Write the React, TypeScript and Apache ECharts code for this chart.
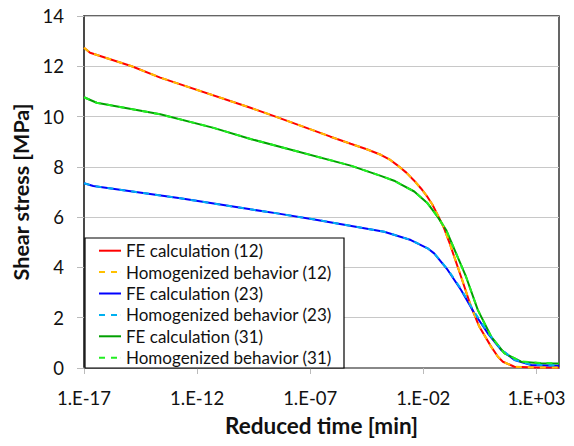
import React, { useEffect, useRef } from "react";
import * as echarts from "echarts";

// x values are log10 of reduced time [min]; y values are shear stress [MPa]
const X_MIN_EXP = -17;
const X_MAX_EXP = 4;
const X_TICK_STEP = 5;
const Y_TICKS = [0, 2, 4, 6, 8, 10, 12, 14];

const fe12Exp = [-17, -16.73, -14.89, -13.63, -9.64, -8.53, -6.1, -5.21, -4.5, -3.88, -3.5, -3.14, -2.75, -2.4, -2.1, -1.85, -1.6, -1.37, -1.1, -0.85, -0.33, 0.11, 0.48, 1.0, 1.3, 1.52, 2.03, 3.0, 4.0];
const fe12Val = [12.74, 12.54, 12.0, 11.55, 10.35, 10.0, 9.2, 8.92, 8.7, 8.48, 8.3, 8.06, 7.77, 7.45, 7.14, 6.85, 6.5, 6.1, 5.6, 5.0, 3.63, 2.44, 1.64, 0.85, 0.45, 0.25, 0.05, 0.02, 0.02];
const hom12Exp = [-17, -16.73, -14.89, -13.63, -9.64, -8.53, -6.1, -5.21, -4.5, -3.88, -3.5, -3.14, -2.75, -2.4, -2.1, -1.85, -1.6, -1.37, -1.1, -0.85, -0.33, 0.11, 0.48, 1.0, 1.3, 1.52, 2.03, 3.0, 4.0];
const hom12Val = [12.74, 12.54, 12.0, 11.55, 10.35, 10.0, 9.2, 8.92, 8.7, 8.48, 8.3, 8.06, 7.77, 7.45, 7.14, 6.85, 6.5, 6.1, 5.6, 5.0, 3.65, 2.46, 1.64, 0.84, 0.45, 0.25, 0.05, 0.02, 0.02];

const fe23Exp = [-17, -16.59, -12.74, -9.64, -8.46, -6.69, -3.73, -2.55, -1.81, -1.52, -0.92, -0.33, 0.26, 0.85, 1.44, 2.03, 2.77, 4.0];
const fe23Val = [7.35, 7.24, 6.75, 6.31, 6.15, 5.89, 5.42, 5.09, 4.76, 4.56, 3.9, 3.1, 2.18, 1.38, 0.72, 0.32, 0.12, 0.09];
const hom23Exp = [-17, -16.59, -12.74, -9.64, -8.46, -6.69, -3.73, -2.55, -1.81, -1.52, -0.92, -0.33, 0.26, 0.85, 1.44, 2.03, 2.77, 4.0];
const hom23Val = [7.35, 7.24, 6.75, 6.31, 6.15, 5.89, 5.42, 5.09, 4.76, 4.56, 3.92, 3.14, 2.22, 1.42, 0.74, 0.33, 0.13, 0.1];

const fe31Exp = [-17, -16.44, -13.63, -11.27, -9.64, -5.21, -3.88, -3.29, -2.99, -2.4, -1.81, -1.37, -0.99, -0.11, 0.41, 1.0, 1.59, 2.33, 3.21, 4.0];
const fe31Val = [10.77, 10.55, 10.09, 9.55, 9.11, 8.05, 7.64, 7.45, 7.3, 7.02, 6.55, 6.02, 5.49, 3.63, 2.31, 1.25, 0.58, 0.25, 0.19, 0.18];
const hom31Exp = [-17, -16.44, -13.63, -11.27, -9.64, -5.21, -3.88, -3.29, -2.99, -2.4, -1.81, -1.37, -0.99, -0.11, 0.41, 1.0, 1.59, 2.33, 3.21, 4.0];
const hom31Val = [10.77, 10.55, 10.09, 9.55, 9.11, 8.05, 7.64, 7.45, 7.3, 7.02, 6.55, 6.02, 5.49, 3.63, 2.31, 1.25, 0.58, 0.26, 0.2, 0.19];

const seriesNames = [
  "FE calculation (12)",
  "Homogenized behavior (12)",
  "FE calculation (23)",
  "Homogenized behavior (23)",
  "FE calculation (31)",
  "Homogenized behavior (31)",
];
const seriesColors = ["#ff0000", "#ffc000", "#0000ff", "#00b0f0", "#00a000", "#22ee22"];

const FONT = "Lato, 'Liberation Sans', sans-serif";
const SOLID_ICON = "path://M0,0H22V2H0Z";
const DASH_ICON = "path://M0,0H6V2H0ZM12,0H18V2H12ZM21.9,0H22V2H21.9Z";

function pairs(xs: number[], ys: number[]) {
  return xs.map((e, i) => [e - X_MIN_EXP, ys[i]]);
}

function expLabel(v: number) {
  const e = Math.round(v + X_MIN_EXP);
  const s = String(Math.abs(e)).padStart(2, "0");
  return "1.E" + (e < 0 ? "-" : "+") + s;
}

export default function App() {
  const ref = useRef<HTMLDivElement>(null);
  useEffect(() => {
    if (!ref.current) return;
    const chart = echarts.init(ref.current, null, { renderer: "svg" });
    const mk = (idx: number, data: number[][]) => {
      const dashed = idx % 2 === 1;
      const color = seriesColors[idx];
      return {
        name: seriesNames[idx],
        type: "line",
        data,
        showSymbol: false,
        symbol: "none",
        smooth: false,
        lineStyle: { color, width: 2, type: dashed ? [6, 6] : "solid" },
        itemStyle: { color },
        z: dashed ? 3 : 2,
      };
    };
    chart.setOption({
      animation: false,
      backgroundColor: "#ffffff",
      grid: {
        left: 84,
        right: 15,
        top: 16,
        bottom: 78,
        show: true,
        borderColor: "#333333",
        borderWidth: 1.5,
        containLabel: false,
        outerBoundsMode: "none",
      },
      xAxis: {
        type: "value",
        min: 0,
        max: X_MAX_EXP - X_MIN_EXP,
        interval: X_TICK_STEP,
        name: "Reduced time [min]",
        nameLocation: "middle",
        nameGap: 46,
        nameTextStyle: { fontFamily: FONT, fontSize: 22.5, fontWeight: "bold", color: "#111" },
        axisLine: { show: true, lineStyle: { color: "#888888", width: 2 } },
        axisTick: { show: true, inside: false, length: 6, lineStyle: { color: "#bbbbbb", width: 1 } },
        axisLabel: {
          fontFamily: FONT,
          fontSize: 18.5,
          color: "#111",
          margin: 20,
          showMaxLabel: false,
          formatter: (v: number) => expLabel(v),
        },
        splitLine: { show: false },
      },
      yAxis: {
        type: "value",
        min: Y_TICKS[0],
        max: Y_TICKS[Y_TICKS.length - 1],
        interval: 2,
        name: "Shear stress [MPa]",
        nameLocation: "middle",
        nameGap: 47,
        nameTextStyle: { fontFamily: FONT, fontSize: 21.5, fontWeight: "bold", color: "#111" },
        axisLine: { show: true, lineStyle: { color: "#404040", width: 1.5 } },
        axisTick: { show: true, inside: false, length: 7, lineStyle: { color: "#bbbbbb", width: 1 } },
        axisLabel: { fontFamily: FONT, fontSize: 18.5, color: "#111", margin: 20 },
        splitLine: { show: true, lineStyle: { color: "#c8c8c8", width: 1 } },
      },
      legend: {
        show: true,
        orient: "vertical",
        left: 99,
        top: 240,
        padding: 0,
        itemGap: 0,
        itemWidth: 22,
        itemHeight: 2,
        symbolKeepAspect: false,
        textStyle: { fontFamily: FONT, fontSize: 17, color: "#111", lineHeight: 21.4 },
        data: seriesNames.map((name, i) => ({ name, icon: i % 2 === 1 ? DASH_ICON : SOLID_ICON })),
        z: 6,
      },
      graphic: [
        {
          type: "rect",
          z: 5,
          shape: { x: 85, y: 238, width: 259, height: 130 },
          style: { fill: "#ffffff", stroke: "#000000", lineWidth: 1.2 },
        },
      ],
      series: [
        mk(0, pairs(fe12Exp, fe12Val)),
        mk(1, pairs(hom12Exp, hom12Val)),
        mk(2, pairs(fe23Exp, fe23Val)),
        mk(3, pairs(hom23Exp, hom23Val)),
        mk(4, pairs(fe31Exp, fe31Val)),
        mk(5, pairs(hom31Exp, hom31Val)),
      ],
    });
    return () => chart.dispose();
  }, []);
  return <div ref={ref} style={{ width: 574, height: 446, margin: -8 }} />;
}
